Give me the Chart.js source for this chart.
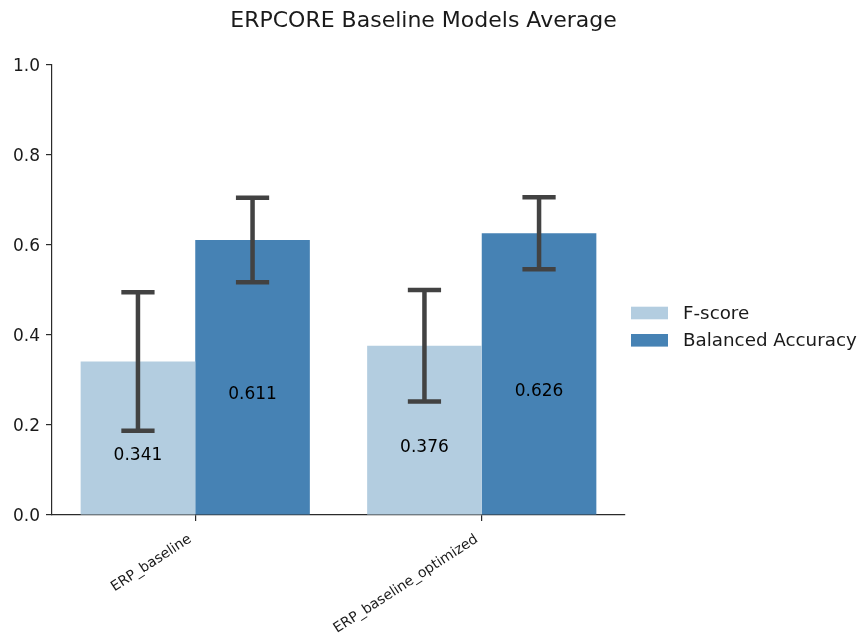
<!DOCTYPE html>
<html>
<head>
<meta charset="utf-8">
<title>ERPCORE Baseline Models Average</title>
<script src="https://cdn.jsdelivr.net/npm/chart.js@4"></script>
<style>
  html, body { margin: 0; padding: 0; background: #fff; }
  canvas { display: block; }
</style>
</head>
<body>
<canvas id="chart" width="861" height="644"></canvas>
<script>
// Model variants on the x axis
const models = ['ERP_baseline', 'ERP_baseline_optimized'];

// Mean scores and their standard deviations
const fScore = [0.341, 0.376];
const fScoreErr = [0.154, 0.124];
const balancedAcc = [0.611, 0.626];
const balancedAccErr = [0.094, 0.080];

// Series names and y-axis tick values
const seriesNames = ['F-score', 'Balanced Accuracy'];
const yTicks = [0.0, 0.2, 0.4, 0.6, 0.8, 1.0];

const chartTitle = 'ERPCORE Baseline Models Average';

const FONT = 'DejaVu Sans';
const TEXT = '#1a1a1a';
const AXIS = '#2b2b2b';

Chart.defaults.font.family = FONT;
Chart.defaults.color = TEXT;

// Vertical error bars with caps, drawn over each bar
const errorBars = {
  id: 'errorBars',
  afterDatasetsDraw(chart) {
    const ctx = chart.ctx;
    const y = chart.scales.y;
    chart.data.datasets.forEach((ds, i) => {
      chart.getDatasetMeta(i).data.forEach((bar, j) => {
        const v = ds.data[j], e = ds.errors[j];
        const top = y.getPixelForValue(v + e);
        const bot = y.getPixelForValue(v - e);
        const half = bar.width * 0.145;
        ctx.save();
        ctx.strokeStyle = '#424242';
        ctx.lineWidth = 4.5;
        ctx.beginPath();
        ctx.moveTo(bar.x, top); ctx.lineTo(bar.x, bot);
        ctx.moveTo(bar.x - half, top); ctx.lineTo(bar.x + half, top);
        ctx.moveTo(bar.x - half, bot); ctx.lineTo(bar.x + half, bot);
        ctx.stroke();
        ctx.restore();
      });
    });
  }
};

// Value labels inside the bars, slightly below mid-height
const valueLabels = {
  id: 'valueLabels',
  afterDatasetsDraw(chart) {
    const ctx = chart.ctx;
    const y = chart.scales.y;
    ctx.save();
    ctx.font = '17px "' + FONT + '"';
    ctx.fillStyle = '#000';
    ctx.textAlign = 'center';
    ctx.textBaseline = 'middle';
    chart.data.datasets.forEach((ds, i) => {
      chart.getDatasetMeta(i).data.forEach((bar, j) => {
        const v = ds.data[j];
        ctx.fillText(v.toFixed(3), bar.x, y.getPixelForValue(v / 2) + 17.5);
      });
    });
    ctx.restore();
  }
};

// Title and legend placed to the right of the plot
const decorations = {
  id: 'decorations',
  afterDraw(chart) {
    const ctx = chart.ctx;
    ctx.save();
    ctx.fillStyle = TEXT;
    ctx.font = '22px "' + FONT + '"';
    ctx.textAlign = 'center';
    ctx.textBaseline = 'alphabetic';
    ctx.fillText(chartTitle, 423.5, 27);

    ctx.font = '18.3px "' + FONT + '"';
    ctx.textAlign = 'left';
    ctx.textBaseline = 'middle';
    chart.data.datasets.forEach((ds, i) => {
      const cy = 313 + i * 27.3;
      ctx.fillStyle = ds.backgroundColor;
      ctx.fillRect(631, cy - 6.3, 37, 12.6);
      ctx.fillStyle = TEXT;
      ctx.fillText(ds.label, 683, cy + 1);
    });
    ctx.restore();
  }
};

new Chart(document.getElementById('chart'), {
  type: 'bar',
  data: {
    labels: models,
    datasets: [
      { label: seriesNames[0], data: fScore, errors: fScoreErr,
        backgroundColor: '#b3cde0', borderWidth: 0 },
      { label: seriesNames[1], data: balancedAcc, errors: balancedAccErr,
        backgroundColor: '#4682b4', borderWidth: 0 }
    ]
  },
  options: {
    responsive: false,
    animation: false,
    devicePixelRatio: 1,
    layout: { padding: { left: 0, right: 236, top: 65, bottom: 0 } },
    datasets: { bar: { categoryPercentage: 0.8, barPercentage: 1.0 } },
    plugins: {
      legend: { display: false },
      title: { display: false },
      tooltip: { enabled: false }
    },
    scales: {
      x: {
        offset: true,
        grid: { display: true, drawOnChartArea: false, drawTicks: true,
                tickLength: 6, offset: false, color: AXIS, lineWidth: 1.2 },
        border: { display: true, color: AXIS, width: 1.2 },
        ticks: { autoSkip: false, minRotation: 33, maxRotation: 33,
                 labelOffset: -5, padding: 10, color: TEXT,
                 font: { size: 14, family: FONT } },
        afterFit(scale) { scale.height = 129; }
      },
      y: {
        min: 0,
        max: 1,
        grid: { display: true, drawOnChartArea: false, drawTicks: true,
                tickLength: 6, color: AXIS, lineWidth: 1.2 },
        border: { display: true, color: AXIS, width: 1.2 },
        ticks: { padding: 6, labelOffset: 1.5, color: TEXT,
                 font: { size: 17, family: FONT },
                 callback: v => Number(v).toFixed(1) },
        afterBuildTicks(scale) { scale.ticks = yTicks.map(v => ({ value: v })); },
        afterFit(scale) { scale.width = 52; }
      }
    }
  },
  plugins: [errorBars, valueLabels, decorations]
});
</script>
</body>
</html>
